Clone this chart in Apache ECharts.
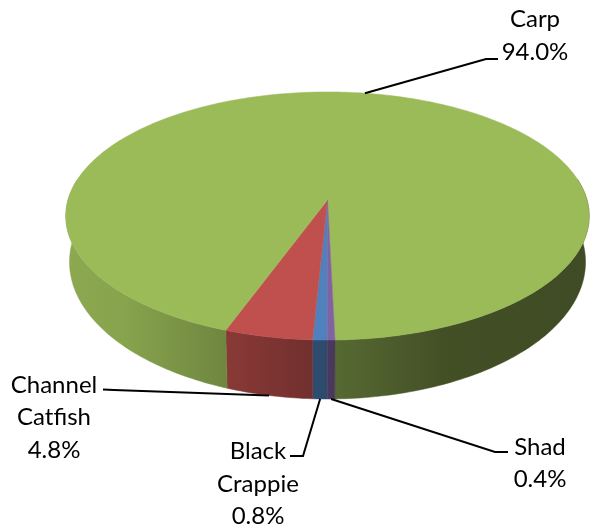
<!DOCTYPE html>
<html>
<head>
<meta charset="utf-8">
<style>
  html, body { margin: 0; padding: 0; background: #fff; }
  #chart { width: 591px; height: 529px; }
</style>
<script src="https://cdn.jsdelivr.net/npm/echarts@6/dist/echarts.min.js"></script>
</head>
<body>
<div id="chart"></div>
<script>
// data, in the order the slices run clockwise from the first slice angle
const categories = ['Black\nCrappie', 'Channel\nCatfish', 'Carp', 'Shad'];
const shares = [0.8, 4.8, 94.0, 0.4];

const sliceColors = [[79, 129, 189], [192, 80, 77], [155, 187, 89], [128, 100, 162]];
const firstSliceAngle = 180;

// tilted disc: cx/cy is where the pie centre lands, persp pulls the near edge out
const disc = { cx: 327.5, cy: 200, rx: 259.5, ry: 122, persp: 0.129 };
// the lower rim is an ellipse of its own, a little narrower than the top one
const lowerRim = { halfWidth: 258, midY: 262, halfHeight: 137 };

// wall shading runs left to right over the whole pie: [offset, brightness]
const wallShade = [[0, 0.9], [0.1, 0.88], [0.3, 0.72], [0.5, 0.57], [0.72, 0.43], [1, 0.4]];

// label placement per slice: elbow of the leader, end of the leader, text centre
const labelLayout = [
  { elbow: [303, 456], end: [290, 456], text: [258, 484], onTop: false },
  { elbow: [114, 390], end: [103, 389.5], text: [54, 417.5], onTop: false },
  { elbow: [486, 59], end: [498, 59], text: [535, 36], onTop: true },
  { elbow: [495, 452], end: [508, 452], text: [540, 463.5], onTop: false }
];

const sliceStart = i => firstSliceAngle + shares.slice(0, i).reduce((a, b) => a + b, 0) * 3.6;

function rimPoint(deg, bottom) {
  const t = deg * Math.PI / 180;
  const u = Math.sin(t);
  const v = -Math.cos(t);
  const w = 1 - disc.persp * v;
  if (!bottom) return [disc.cx + disc.rx * u / w, disc.cy + disc.ry * v / w];
  const across = (u / w) * Math.sqrt(1 - disc.persp * disc.persp);
  const side = v >= disc.persp ? 1 : -1;
  return [
    disc.cx + lowerRim.halfWidth * across,
    lowerRim.midY + side * lowerRim.halfHeight * Math.sqrt(Math.max(0, 1 - across * across))
  ];
}

function arc(from, to, bottom) {
  const pts = [];
  const steps = Math.max(2, Math.ceil((to - from) / 1));
  for (let i = 0; i <= steps; i++) pts.push(rimPoint(from + (to - from) * i / steps, bottom));
  return pts;
}

function wallFill(rgb) {
  return {
    type: 'linear',
    global: true,
    x: disc.cx - disc.rx * 1.0084,
    y: 0,
    x2: disc.cx + disc.rx * 1.0084,
    y2: 0,
    colorStops: wallShade.map(([offset, f]) => ({
      offset,
      color: `rgb(${rgb.map(c => Math.round(c * f)).join(',')})`
    }))
  };
}

function renderSlice(params, api) {
  const i = api.value(0);
  const from = sliceStart(i);
  const to = from + api.value(1) * 3.6;
  const rgb = sliceColors[i];
  const topColor = `rgb(${rgb.join(',')})`;
  const children = [];

  // only the front half of the rim shows a wall
  [[80, 280], [440, 640]].forEach(([lo, hi]) => {
    const a = Math.max(from, lo);
    const b = Math.min(to, hi);
    if (a >= b) return;
    const pts = arc(a, b, false).concat(arc(a, b, true).reverse());
    const fill = wallFill(rgb);
    children.push({
      type: 'polygon',
      z2: 1,
      shape: { points: pts },
      style: { fill, stroke: fill, lineWidth: 0.5 }
    });
  });

  children.push({
    type: 'polygon',
    z2: 2,
    shape: { points: [[disc.cx, disc.cy]].concat(arc(from, to, false)) },
    style: { fill: topColor, stroke: topColor, lineWidth: 0.5 }
  });

  return { type: 'group', children };
}

function renderLabel(params, api) {
  const i = api.value(0);
  const mid = sliceStart(i) + api.value(1) * 1.8;
  const layout = labelLayout[i];
  const anchor = rimPoint(mid, !layout.onTop);
  return {
    type: 'group',
    children: [
      {
        type: 'polyline',
        z2: 5,
        shape: { points: [anchor, layout.elbow, layout.end] },
        style: { fill: null, stroke: '#000', lineWidth: 2 }
      },
      {
        type: 'text',
        z2: 6,
        style: {
          x: layout.text[0],
          y: layout.text[1],
          text: `${categories[i]}\n${api.value(1).toFixed(1)}%`,
          fill: '#000',
          fontFamily: 'Lato',
          fontSize: 24,
          lineHeight: 32.5,
          align: 'center',
          verticalAlign: 'middle'
        }
      }
    ]
  };
}

const chart = echarts.init(document.getElementById('chart'), null, { renderer: 'canvas' });
const rows = shares.map((v, i) => [i, v]);

chart.setOption({
  animation: false,
  backgroundColor: '#fff',
  series: [
    { type: 'custom', coordinateSystem: 'none', silent: true, data: rows, renderItem: renderSlice },
    { type: 'custom', coordinateSystem: 'none', silent: true, data: rows, renderItem: renderLabel }
  ]
});
</script>
</body>
</html>
